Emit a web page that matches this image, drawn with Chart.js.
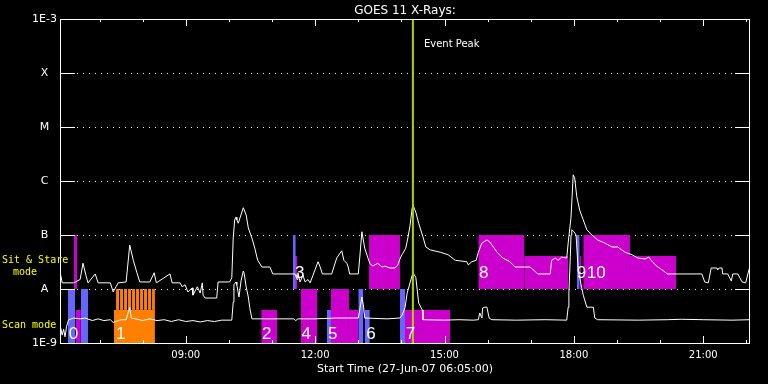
<!DOCTYPE html>
<html>
<head>
<meta charset="utf-8">
<script src="https://cdn.jsdelivr.net/npm/chart.js@4"></script>
<style>
  html, body { margin: 0; padding: 0; background: #000; }
  canvas { display: block; }
</style>
</head>
<body>
<canvas id="chart" width="768" height="384"></canvas>
<script>
const START = "06:05";
const END = "22:05";
const PEAK_TIME = "14:16";

const yTickValues = [1e-9, 1e-8, 1e-7, 1e-6, 1e-5, 1e-4, 1e-3];
const yTickLabels = ["1E-9", "A", "B", "C", "M", "X", "1E-3"];
const xTickHours = [7, 8, 9, 10, 11, 12, 13, 14, 15, 16, 17, 18, 19, 20, 21, 22];
const xLabelHours = [9, 12, 15, 18, 21];

// 1-8 A channel
const longTimes = ["06:06","06:08","06:24","06:33","06:37","06:41","06:44","06:54","06:58","07:15",
  "07:19","07:23","07:26","07:37","07:42","07:47","07:52","07:56","08:10","08:16",
  "08:19","08:38","08:41","08:52","08:55","08:59","09:03","09:09","09:10","09:16",
  "09:20","09:23","09:24","09:27","09:43","09:45","10:01","10:04","10:06","10:08",
  "10:10","10:11","10:13","10:20","10:24","10:27","10:32","10:36","10:40","10:46",
  "10:57","11:01","11:32","11:35","11:36","11:39","11:43","11:46","11:50","11:53",
  "11:57","12:04","12:07","12:10","12:23","12:26","12:30","12:37","12:40","12:44",
  "12:46","12:48","13:00","13:02","13:05","13:09","13:13","13:16","13:20","13:27",
  "13:33","13:37","13:44","13:51","13:55","13:59","14:02","14:06","14:09","14:12",
  "14:15","14:16","14:20","14:24","14:30","14:34","14:40","14:54","15:05","15:15",
  "15:31","15:33","15:38","15:44","15:47","15:52","15:59","16:03","16:13","16:21",
  "16:31","16:38","16:59","17:10","17:27","17:29","17:34","17:38","17:43","17:50",
  "17:52","17:56","17:59","18:01","18:04","18:08","18:13","18:18","18:25","18:33",
  "18:43","18:53","19:01","19:11","19:21","19:29","19:39","19:44","19:50","19:56",
  "20:04","20:10","20:58","21:02","21:07","21:11","21:19","21:20","21:22","21:26",
  "21:27","21:34","21:39","21:41","21:48","21:54","21:59","22:02","22:05"];
const longFlux = [1.8e-8,1.3e-8,1.3e-8,1.5e-8,3.0e-8,1.8e-8,1.3e-8,1.9e-8,1.3e-8,1.3e-8,
  8.8e-9,1.1e-8,1.3e-8,1.35e-8,6.5e-8,3.4e-8,2.0e-8,1.35e-8,1.35e-8,2.0e-8,
  1.3e-8,1.9e-8,1.3e-8,1.3e-8,1.1e-8,1.2e-8,8.8e-9,1.05e-8,7.7e-9,1.1e-8,
  8.4e-9,1.3e-8,7.7e-9,6.8e-9,6.8e-9,1.35e-8,1.35e-8,1.6e-8,8.8e-8,1.9e-7,
  2.15e-7,1.9e-7,1.65e-7,3.2e-7,2.35e-7,1.35e-7,8.8e-8,5.7e-8,3.4e-8,2.55e-8,
  2.55e-8,1.9e-8,1.9e-8,1.5e-8,2.0e-8,1.35e-8,1.8e-8,1.35e-8,1.5e-8,1.3e-8,
  1.8e-8,3.2e-8,2.55e-8,1.9e-8,1.9e-8,2.55e-8,3.75e-8,5.1e-8,3.4e-8,3.0e-8,
  2.55e-8,1.9e-8,1.9e-8,3.75e-8,1.15e-7,5.7e-8,3.9e-8,3.0e-8,2.65e-8,3.0e-8,
  2.55e-8,2.65e-8,2.45e-8,2.45e-8,2.8e-8,3.9e-8,4.6e-8,5.7e-8,8.8e-8,1.5e-7,
  3.2e-7,3.6e-7,2.65e-7,1.65e-7,9.2e-8,6.0e-8,5.3e-8,4.8e-8,4.3e-8,3.4e-8,
  3.2e-8,2.8e-8,3.2e-8,3.4e-8,4.8e-8,7.1e-8,8.1e-8,7.4e-8,4.8e-8,3.75e-8,
  3.2e-8,2.55e-8,2.55e-8,1.9e-8,1.9e-8,3.4e-8,3.75e-8,3.4e-8,3.9e-8,3.75e-8,
  7.1e-8,2.15e-7,1.3e-6,1.15e-6,5.1e-7,2.9e-7,1.9e-7,1.25e-7,1.0e-7,8.1e-8,
  7.1e-8,6.0e-8,6.0e-8,4.8e-8,4.3e-8,3.75e-8,3.6e-8,3.9e-8,3.1e-8,2.6e-8,
  2.2e-8,1.9e-8,1.9e-8,1.35e-8,1.3e-8,2.45e-8,2.45e-8,2.25e-8,2.45e-8,2.45e-8,
  1.9e-8,1.9e-8,1.4e-8,1.9e-8,1.9e-8,1.35e-8,1.3e-8,1.9e-8,2.65e-8];

// 0.5-4 A channel
const shortTimes = ["06:06","06:08","06:10","06:12","06:14","06:17","06:24","06:33","06:40","06:50",
  "06:58","07:06","07:15","07:19","07:30","07:37","07:42","07:44","07:50","08:00",
  "08:10","08:20","08:30","08:40","08:50","09:00","09:10","09:20","09:30","09:40",
  "09:50","10:04","10:06","10:07","10:10","10:11","10:14","10:17","10:20","10:21",
  "10:24","10:27","10:29","10:32","11:00","11:30","11:33","11:36","12:00","12:30",
  "13:00","13:02","13:05","13:07","13:09","13:40","13:58","14:01","14:05","14:08",
  "14:12","14:15","14:16","14:20","14:22","14:24","14:29","14:30","15:00","15:20",
  "15:40","15:47","15:49","15:52","15:53","15:56","15:59","16:02","16:06","16:40",
  "17:20","17:50","17:52","17:53","17:55","17:56","17:57","18:00","18:03","18:06",
  "18:10","18:13","18:18","18:27","18:29","18:33","19:30","20:10","20:30","21:00",
  "21:40","22:05"];
const shortFlux = [1.9e-9,1.4e-9,1.8e-9,1.3e-9,2.0e-9,2.7e-9,2.9e-9,2.8e-9,2.9e-9,2.6e-9,
  2.8e-9,2.6e-9,2.7e-9,2.4e-9,2.7e-9,2.7e-9,4.6e-9,2.9e-9,2.8e-9,2.6e-9,
  2.8e-9,2.6e-9,2.7e-9,2.5e-9,2.7e-9,2.5e-9,2.6e-9,2.45e-9,2.6e-9,2.5e-9,
  2.65e-9,2.65e-9,5.7e-9,1.2e-8,1.35e-8,1.2e-8,7.1e-9,1.45e-8,2.15e-8,2.0e-8,
  1.1e-8,7.1e-9,4.5e-9,2.8e-9,2.8e-9,2.8e-9,2.6e-9,2.8e-9,2.8e-9,2.9e-9,
  2.9e-9,4.1e-9,7.1e-9,5.1e-9,2.9e-9,2.8e-9,2.9e-9,3.3e-9,4.5e-9,8.4e-9,
  1.3e-8,1.8e-8,2.0e-8,1.65e-8,9.6e-9,5.5e-9,4.1e-9,2.7e-9,2.65e-9,2.7e-9,
  2.65e-9,2.7e-9,3.6e-9,2.9e-9,4.45e-9,4.6e-9,4.6e-9,2.9e-9,2.7e-9,2.65e-9,
  2.7e-9,2.65e-9,4.6e-9,8.4e-9,4.0e-8,1.0e-7,1.25e-7,1.15e-7,1.0e-7,2.25e-8,
  1.2e-8,7.7e-9,4.6e-9,4.6e-9,2.9e-9,2.7e-9,2.65e-9,2.7e-9,2.75e-9,2.7e-9,
  2.65e-9,2.7e-9];

// observation blocks: kind 0 / 1 / 2, low and high flux edge
const boxStart = ["06:16","06:24","06:27","06:34","07:20",
  "07:23:00","07:28:34","07:34:08","07:39:41","07:45:15","07:50:49","07:56:23","08:01:57","08:07:31","08:13:05",
  "10:45","11:29","11:32","11:40","12:16","12:22","12:47","13:00","13:09","13:15",
  "13:58","14:05","15:47","16:51","18:04","18:08","18:13","19:18"];
const boxEnd = ["06:26","06:29","06:34","06:44","08:17",
  "07:27:10","07:32:44","07:38:18","07:43:51","07:49:25","07:54:59","08:00:33","08:06:07","08:11:41","08:17:00",
  "11:07","11:33","11:35","12:03","12:22","12:47","13:00","13:07","13:16","13:58",
  "14:05","15:08","16:51","17:52","18:08","18:10","19:18","20:22"];
const boxKind = [1,0,0,1,2, 2,2,2,2,2,2,2,2,2,2, 0,1,0,0,1,0,0,1,1,0, 1,0,0,0,1,0,0,0];
const boxLow = [1e-9,1e-8,1e-9,1e-9,1e-9,
  4.1e-9,4.1e-9,4.1e-9,4.1e-9,4.1e-9,4.1e-9,4.1e-9,4.1e-9,4.1e-9,4.1e-9,
  1e-9,1e-8,1e-8,1e-9,1e-9,1e-9,1e-9,1e-9,1e-9,1e-8,
  1e-9,1e-9,1e-8,1e-8,1e-8,1e-8,1e-8,1e-8];
const boxHigh = [1e-8,1e-7,4.1e-9,1e-8,4.1e-9,
  1e-8,1e-8,1e-8,1e-8,1e-8,1e-8,1e-8,1e-8,1e-8,1e-8,
  4.1e-9,1e-7,4.1e-8,1e-8,4.1e-9,1e-8,4.1e-9,1e-8,4.1e-9,1e-7,
  1e-8,4.1e-9,1e-7,4.1e-8,1e-7,4.1e-8,1e-7,4.1e-8];

const eventNames = ["0","1","2","3","4","5","6","7","8","9","10"];
const eventTimes = ["06:17","07:23","10:46","11:32","11:41","12:18","13:11","14:06","15:48","18:04","18:18"];
const eventMode = ["scan","scan","scan","sit","scan","scan","scan","scan","sit","sit","sit"];

const palette = ["#cc00cc", "#6666ff", "#ff8000"];
const labelLevel = { scan: 1.2e-9, sit: 1.6e-8 };

function toHours(s) {
  const p = s.split(":").map(Number);
  return p[0] + p[1] / 60 + (p[2] || 0) / 3600;
}

const series = (times, vals) => times.map((t, i) => ({ x: toHours(t), y: vals[i] }));

const boxSets = boxStart.map((s, i) => ({
  data: [{ x: toHours(s), y: boxHigh[i] }, { x: toHours(boxEnd[i]), y: boxHigh[i] }],
  fill: { value: boxLow[i] },
  backgroundColor: palette[boxKind[i]],
  borderColor: "rgba(0,0,0,0)",
  borderWidth: 0,
  pointRadius: 0,
  order: 3
}));

const frame = {
  id: "frame",
  beforeDraw(chart) {
    const ctx = chart.ctx;
    ctx.save();
    ctx.fillStyle = "#000";
    ctx.fillRect(0, 0, chart.width, chart.height);
    ctx.restore();
  },
  beforeDatasetsDraw(chart) {
    const { ctx, chartArea: a, scales: { y } } = chart;
    ctx.save();
    ctx.strokeStyle = "#fff";
    ctx.lineWidth = 1;
    ctx.setLineDash([1, 5]);
    yTickValues.slice(1, -1).forEach(v => {
      const py = Math.round(y.getPixelForValue(v)) + 0.5;
      ctx.beginPath();
      ctx.moveTo(a.left + 17, py);
      ctx.lineTo(a.right - 15, py);
      ctx.stroke();
    });
    ctx.restore();
  },
  afterDatasetsDraw(chart) {
    const { ctx, chartArea: a, scales: { x, y } } = chart;
    ctx.save();
    ctx.strokeStyle = "#fff";
    ctx.lineWidth = 1;
    ctx.strokeRect(a.left + 0.5, a.top + 0.5, a.right - a.left - 1, a.bottom - a.top);

    ctx.beginPath();
    yTickValues.slice(1, -1).forEach(v => {
      const py = Math.round(y.getPixelForValue(v)) + 0.5;
      ctx.moveTo(a.left, py); ctx.lineTo(a.left + 15, py);
      ctx.moveTo(a.right - 15, py); ctx.lineTo(a.right, py);
    });
    xTickHours.forEach(h => {
      const px = Math.round(x.getPixelForValue(h)) + 0.5;
      const len = xLabelHours.includes(h) ? 7 : 3;
      ctx.moveTo(px, a.top); ctx.lineTo(px, a.top + len);
      ctx.moveTo(px, a.bottom); ctx.lineTo(px, a.bottom - len);
    });
    ctx.stroke();

    ctx.fillStyle = "#fff";
    ctx.font = '17px "Liberation Sans"';
    ctx.textBaseline = "alphabetic";
    ctx.textAlign = "left";
    eventNames.forEach((n, i) => {
      ctx.fillText(n, x.getPixelForValue(toHours(eventTimes[i])),
        y.getPixelForValue(labelLevel[eventMode[i]]));
    });

    ctx.font = '10px "DejaVu Sans"';
    ctx.fillText("Event Peak", x.getPixelForValue(toHours(PEAK_TIME)) + 11, a.top + 28);

    ctx.textAlign = "center";
    ctx.font = '12px "DejaVu Sans"';
    ctx.fillText("GOES 11 X-Rays:", (a.left + a.right) / 2, 14);
    ctx.font = '11px "DejaVu Sans"';
    ctx.fillText("Start Time (27-Jun-07 06:05:00)", (a.left + a.right) / 2, 372);

    ctx.fillStyle = "#ffff00";
    ctx.textAlign = "left";
    ctx.font = '10px "DejaVu Sans Mono"';
    const sitMid = (y.getPixelForValue(1e-8) + y.getPixelForValue(1e-7)) / 2;
    const scanMid = (y.getPixelForValue(1e-9) + y.getPixelForValue(1e-8)) / 2;
    ctx.fillText("Sit & Stare", 2, sitMid + 1);
    ctx.fillText("mode", 13, sitMid + 13);
    ctx.fillText("Scan mode", 2, scanMid + 12);
    ctx.restore();
  }
};

new Chart(document.getElementById("chart"), {
  type: "line",
  data: {
    datasets: [
      {
        data: [{ x: toHours(PEAK_TIME), y: 1e-9 }, { x: toHours(PEAK_TIME), y: 1e-3 }],
        borderColor: "#aad400",
        borderWidth: 2,
        pointRadius: 0,
        fill: false,
        order: 1
      },
      { data: series(longTimes, longFlux), borderColor: "#fff", borderWidth: 1, pointRadius: 0, fill: false, order: 2 },
      { data: series(shortTimes, shortFlux), borderColor: "#fff", borderWidth: 1, pointRadius: 0, fill: false, order: 2 },
      ...boxSets
    ]
  },
  options: {
    responsive: false,
    animation: false,
    devicePixelRatio: 1,
    events: [],
    layout: { padding: { top: 19, right: 18, left: 0, bottom: 0 } },
    plugins: { legend: { display: false }, tooltip: { enabled: false } },
    scales: {
      x: {
        type: "linear",
        min: toHours(START),
        max: toHours(END),
        grid: { display: false, drawTicks: false },
        border: { display: false },
        afterBuildTicks: s => { s.ticks = xTickHours.map(v => ({ value: v })); },
        afterFit: s => { s.height = 41; },
        ticks: {
          autoSkip: false, maxRotation: 0, color: "#fff", padding: 6,
          font: { family: "DejaVu Sans", size: 10 },
          callback: v => xLabelHours.includes(v) ? String(v).padStart(2, "0") + ":00" : ""
        }
      },
      y: {
        type: "logarithmic",
        min: 1e-9,
        max: 1e-3,
        grid: { display: false, drawTicks: false },
        border: { display: false },
        afterBuildTicks: s => { s.ticks = yTickValues.map(v => ({ value: v })); },
        afterFit: s => { s.width = 60; },
        ticks: {
          autoSkip: false, color: "#fff", padding: 3, crossAlign: "center",
          font: { family: "DejaVu Sans", size: 11 },
          callback: (v, i) => yTickLabels[i]
        }
      }
    }
  },
  plugins: [frame]
});
</script>
</body>
</html>
